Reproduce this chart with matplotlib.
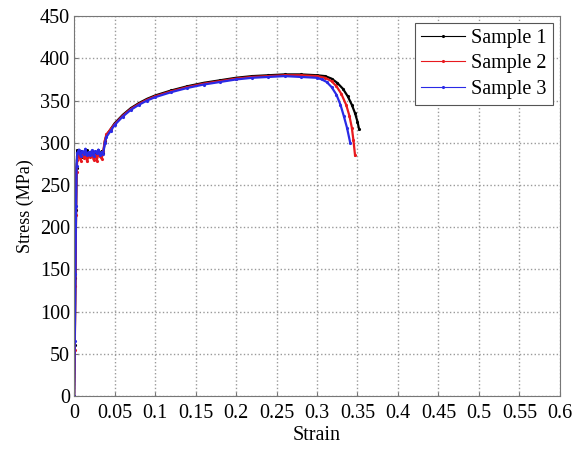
import matplotlib.pyplot as plt

# strain / stress values
strain_1 = [0, 0.0008, 0.0016, 0.0024, 0.003, 0.004, 0.006, 0.008, 0.010, 0.012,
            0.014, 0.016, 0.018, 0.020, 0.022, 0.024, 0.026, 0.028, 0.030, 0.032,
            0.034, 0.036, 0.038, 0.040, 0.045, 0.05, 0.06, 0.07, 0.08, 0.09,
            0.10, 0.12, 0.14, 0.16, 0.18, 0.20, 0.22, 0.24, 0.26, 0.28,
            0.30, 0.31, 0.318, 0.325, 0.332, 0.338, 0.343, 0.347, 0.350, 0.352]
stress_1 = [0, 60, 140, 220, 270, 291, 285, 290, 283, 289,
            286, 291, 284, 288, 290, 285, 289, 287, 291, 286,
            290, 288, 302, 309, 316, 323, 333, 341, 347, 352,
            356, 362, 367, 371, 374, 377, 379, 380, 381, 381,
            380, 379, 376, 371, 364, 355, 345, 335, 325, 316]

strain_2 = [0, 0.0008, 0.0016, 0.0024, 0.003, 0.004, 0.006, 0.008, 0.010, 0.012,
            0.014, 0.016, 0.018, 0.020, 0.022, 0.024, 0.026, 0.028, 0.030, 0.032,
            0.034, 0.036, 0.038, 0.040, 0.045, 0.05, 0.06, 0.07, 0.08, 0.09,
            0.10, 0.12, 0.14, 0.16, 0.18, 0.20, 0.22, 0.24, 0.26, 0.28,
            0.30, 0.31, 0.318, 0.324, 0.330, 0.336, 0.340, 0.343, 0.345, 0.347]
stress_2 = [0, 55, 130, 215, 265, 280, 287, 279, 286, 282,
            288, 278, 285, 283, 289, 280, 286, 279, 287, 284,
            281, 290, 303, 310, 316, 322, 332, 340, 346, 351,
            355, 361, 366, 370, 373, 376, 378, 379, 380, 380,
            379, 377, 373, 367, 358, 345, 332, 318, 303, 285]

strain_3 = [0, 0.0008, 0.0016, 0.0024, 0.003, 0.004, 0.006, 0.008, 0.010, 0.012,
            0.014, 0.016, 0.018, 0.020, 0.022, 0.024, 0.026, 0.028, 0.030, 0.032,
            0.034, 0.036, 0.038, 0.040, 0.045, 0.05, 0.06, 0.07, 0.08, 0.09,
            0.10, 0.12, 0.14, 0.16, 0.18, 0.20, 0.22, 0.24, 0.26, 0.28,
            0.30, 0.306, 0.312, 0.318, 0.324, 0.329, 0.333, 0.337, 0.341]
stress_3 = [0, 65, 145, 225, 272, 288, 292, 284, 290, 287,
            293, 285, 289, 286, 291, 284, 290, 288, 292, 285,
            289, 287, 300, 307, 314, 321, 331, 339, 345, 350,
            354, 360, 365, 369, 372, 375, 377, 378, 379, 378,
            377, 375, 372, 366, 357, 345, 332, 318, 300]

labels = ['Sample 1', 'Sample 2', 'Sample 3']
colors = ['black', '#e8191e', '#2a2ae6']

plt.rcParams['font.family'] = ['Liberation Serif', 'DejaVu Serif']
plt.rcParams['font.size'] = 14.5

fig = plt.figure(figsize=(5.79, 4.49), dpi=100)
ax = fig.add_axes([0.128, 0.118, 0.839, 0.846])

series = [(strain_1, stress_1), (strain_2, stress_2), (strain_3, stress_3)]
for (x, y), lab, col in zip(series, labels, colors):
    ax.plot(x, y, color=col, linewidth=1.6, marker='.', markersize=2.5, label=lab)

ax.set_xlim(0, 0.6)
ax.set_ylim(0, 450)
ax.set_xticks([0, 0.05, 0.1, 0.15, 0.2, 0.25, 0.3, 0.35, 0.4, 0.45, 0.5, 0.55, 0.6])
ax.set_xticklabels(['0', '0.05', '0.1', '0.15', '0.2', '0.25', '0.3', '0.35',
                    '0.4', '0.45', '0.5', '0.55', '0.6'])
ax.set_yticks(range(0, 451, 50))
ax.grid(True, color='#9a9a9a', linestyle=':', linewidth=1.0)
ax.tick_params(direction='in', length=3, color='#777777')
ax.tick_params(axis='x', pad=6)
ax.tick_params(axis='y', pad=3)
for sp in ax.spines.values():
    sp.set_color('#777777')

ax.set_xlabel('Strain', labelpad=2)
ax.set_ylabel('Stress (MPa)', labelpad=4, fontsize=13)

leg = ax.legend(loc='upper right', fancybox=False, framealpha=1, edgecolor='#555555',
                handlelength=2.2, handletextpad=0.3, borderaxespad=0.35,
                labelspacing=0.3, borderpad=0.3)
leg.get_frame().set_linewidth(0.8)
for h in leg.get_lines():
    h.set_linewidth(0.8)

fig.savefig('out.png', dpi=100)
